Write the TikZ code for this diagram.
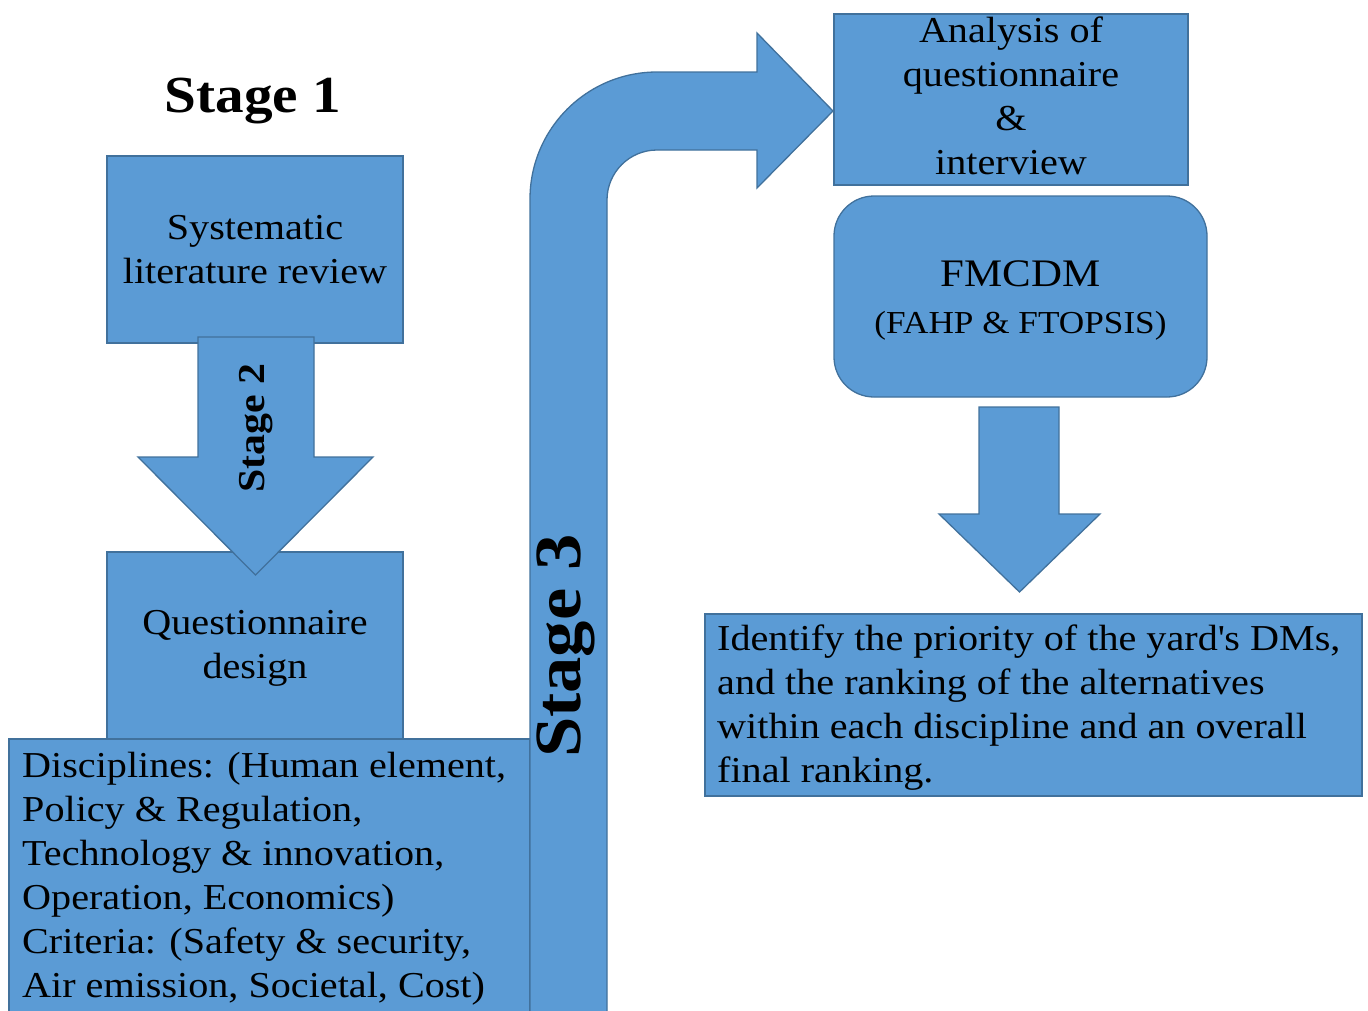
\documentclass[tikz,border=0pt]{standalone}
\usepackage{fontspec}
\setmainfont{Liberation Serif}[FakeStretch=1.1]
\usetikzlibrary{calc}
\definecolor{fillblue}{RGB}{91,155,213}
\definecolor{edgeblue}{RGB}{65,113,156}
\begin{document}
\begin{tikzpicture}[x=1pt,y=-1pt,
  blk/.style={fill=fillblue,draw=edgeblue,line width=1.3pt},
  box/.style={blk,rectangle,inner sep=0pt},
  body/.style={font=\fontsize{36.5}{44}\selectfont},
  stagefont/.style={font=\fontsize{#1}{#1}\bfseries\selectfont},
]
\useasboundingbox (0,0) rectangle (1368,1010);
\clip (0,0) rectangle (1368,1010);

% Stage 1 title
\node[stagefont=52] (s1) at (253,101) {Stage 1};

% left column
\node[box,body,align=center,minimum width=296pt,minimum height=187pt] (slr) at (255,249.5) {Systematic\\literature review};
\node[box,body,align=center,minimum width=296pt,minimum height=188pt,text depth=0pt] (qd) at (255,646) {};
\node[body,align=center] (qdt) at (255,648) {Questionnaire\\design};
\path[blk] (198,337) -- (314,337) -- (314,457) -- (373,457) -- (255.5,575) -- (138,457) -- (198,457) -- cycle;
\node[stagefont=38,rotate=90] (s2) at (256,428) {Stage 2};

\node[box,minimum width=521pt,minimum height=280pt] (disc) at (269.5,879) {};
\node[body,align=left,anchor=north west,inner sep=0pt] (disct) at (22,752)
  {Disciplines: (Human element,\\Policy \& Regulation,\\Technology \& innovation,\\Operation, Economics)\\Criteria: (Safety \& security,\\Air emission, Societal, Cost)};

% Stage 3 bent arrow
\path[blk] (530,1015) -- (530,199) arc[start angle=180,end angle=270,radius=127] -- (757,72) -- (757,33) -- (833,111) -- (757,188) -- (757,150) -- (657,150) arc[start angle=270,end angle=180,radius=50] -- (607,1015) -- cycle;
\node[stagefont=66,rotate=90] (s3) at (566,646) {Stage 3};

% right column
\node[box,minimum width=354pt,minimum height=171pt] (aq) at (1011,99.5) {};
\node[body,align=center] (aqt) at (1011,96) {Analysis of\\questionnaire\\\&\\interview};
\node[box,rounded corners=40pt,minimum width=373pt,minimum height=201pt] (fm) at (1020.5,296.5) {};
\node[align=center,font=\fontsize{32}{47}\selectfont] (fmt) at (1020.5,300)
  {{\fontsize{39}{47}\selectfont FMCDM}\\(FAHP \& FTOPSIS)};
\path[blk] (979,407) -- (1059,407) -- (1059,514) -- (1100,514) -- (1019.5,592) -- (939,514) -- (979,514) -- cycle;
\node[box,minimum width=657pt,minimum height=182pt] (res) at (1033.5,705) {};
\node[body,align=left,anchor=west,inner sep=0pt] (rest) at (717,708)
  {Identify the priority of the yard\textquotesingle s DMs,\\and the ranking of the alternatives\\within each discipline and an overall\\final ranking.};
\end{tikzpicture}
\end{document}
